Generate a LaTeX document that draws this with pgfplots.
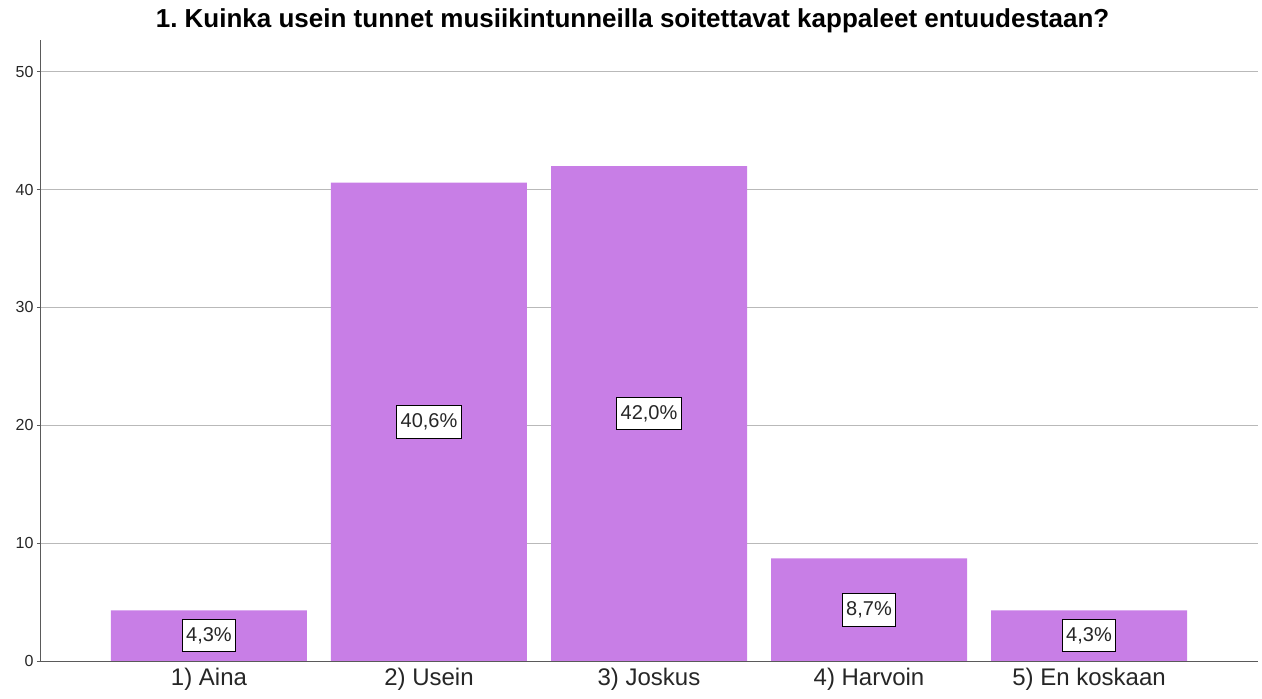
\documentclass[border=0pt]{standalone}
\usepackage{fontspec}
\setmainfont{Liberation Sans}
\usepackage{pgfplots}
\pgfplotsset{compat=1.18}
\frenchspacing
\definecolor{barc}{RGB}{200,126,230}
\definecolor{gridc}{RGB}{185,185,185}
\definecolor{axc}{RGB}{90,90,90}
\begin{document}
\begin{tikzpicture}
\begin{axis}[
  scale only axis,
  width=1218pt, height=621pt,
  xmin=-0.768, xmax=4.768,
  ymin=0, ymax=52.7,
  axis x line=bottom, axis y line=left,
  axis line style={-, axc, line width=0.8pt},
  xtick={0,1,2,3,4},
  xticklabels={1) Aina,2) Usein,3) Joskus,4) Harvoin,5) En koskaan},
  ytick={0,10,20,30,40,50},
  ymajorgrids,
  major grid style={gridc, line width=0.8pt},
  x tick style={draw=none},
  y tick style={axc, line width=0.8pt},
  tick align=outside,
  major tick length=3pt,
  x tick label style={font=\fontsize{24}{27}\selectfont, text=black!85, yshift=-1pt},
  y tick label style={font=\fontsize{16}{18}\selectfont, text=black!85},
  /pgf/number format/assume math mode=true,
  title={1.\ Kuinka usein tunnet musiikintunneilla soitettavat kappaleet entuudestaan?},
  title style={font=\fontsize{26}{29}\bfseries, at={(axis description cs:0.4865,1)}, anchor=base, yshift=6pt},
  clip=false,
]
\addplot[ybar, bar width=196pt, fill=barc, draw=none] coordinates {
  (0,4.3) (1,40.6) (2,42.0) (3,8.7) (4,4.3)
};
\addplot[draw=none, mark=none,
  point meta=explicit,
  nodes near coords={\pgfmathprintnumber[use comma,fixed,fixed zerofill,precision=1,assume math mode=true]{\pgfplotspointmeta}\%},
  every node near coord/.style={anchor=center, fill=white, draw=black, text=black!85, line width=0.9pt, inner xsep=4pt, inner ysep=8pt, font=\fontsize{20}{23}\selectfont},
] table[x=x, y expr=\thisrow{v}/2, meta=v] {
x v
0 4.3
1 40.6
2 42.0
3 8.7
4 4.3
};
\end{axis}
\path[use as bounding box] ([shift={(-40pt,-38pt)}]current axis.south west) rectangle ([shift={(4pt,40pt)}]current axis.north east);
\end{tikzpicture}
\end{document}
